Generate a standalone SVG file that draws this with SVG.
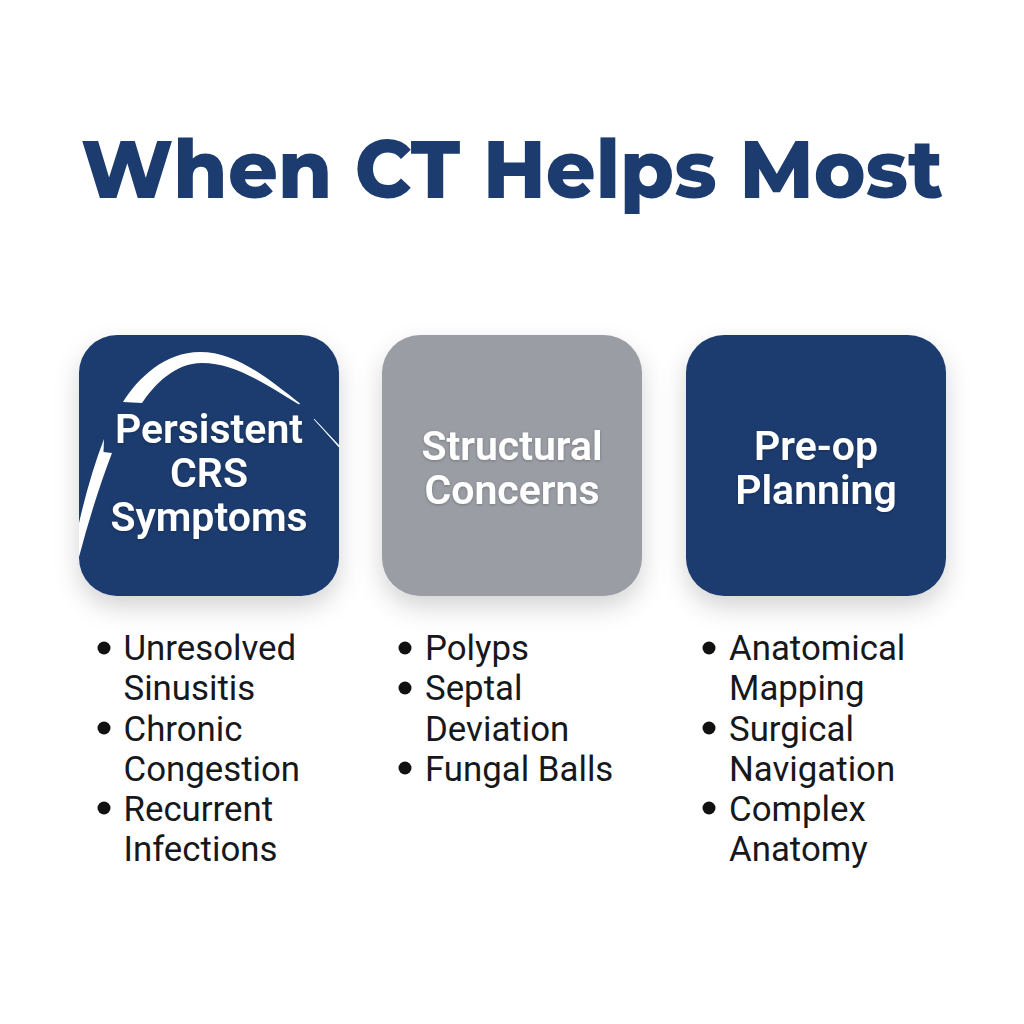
<svg xmlns="http://www.w3.org/2000/svg" width="1024" height="1024" viewBox="0 0 1024 1024">
<defs>
<filter id="sh" x="-20%" y="-20%" width="140%" height="150%"><feDropShadow dx="0" dy="11" stdDeviation="12" flood-color="#000" flood-opacity="0.17"/></filter>
<filter id="ts" x="-10%" y="-20%" width="120%" height="140%"><feDropShadow dx="0" dy="1" stdDeviation="1.5" flood-color="#000" flood-opacity="0.25"/></filter>
</defs>
<style>
.card{filter:url(#sh)}
.navy{fill:#1c3b6e}
.gray{fill:#9a9da4}
.h{font-family:Roboto,"Liberation Sans",sans-serif;font-weight:600;font-size:41px;fill:#fff;text-anchor:middle;filter:url(#ts)}
.b{font-family:Roboto,"Liberation Sans",sans-serif;font-size:34.8px;fill:#16181c}
.t{font-family:Montserrat,Inter,"Liberation Sans",sans-serif;font-weight:800;font-size:81px;fill:#1c3b6e;text-anchor:middle}
</style>
<rect width="1024" height="1024" fill="#fff"/>
<text class="t" x="512" y="198" textLength="862" lengthAdjust="spacingAndGlyphs">When CT Helps Most</text>
<g id="card1">
<rect class="card navy" x="79" y="335" width="260" height="261" rx="38"/>
<path d="M123 402C138 378 165 352 200 352C235 352 265 376 300 403.500L299 404.500C265 384 235 363 202 363C175 363 155 384 142 403Z" fill="#fff"/>
<path d="M104 439L103.500 452L112 453Q94 500 79 557L79 523Q90 475 104 439Z" fill="#fff"/>
<path d="M314 419L339 447L339 445.500Z" fill="#fff" stroke="#fff" stroke-width="0.8"/>
<text class="h" x="209" y="443">Persistent</text>
<text class="h" x="209" y="487">CRS</text>
<text class="h" x="209" y="531">Symptoms</text>
</g>
<g id="card2">
<rect class="card gray" x="382" y="335" width="260" height="261" rx="38"/>
<text class="h" x="512" y="460">Structural</text>
<text class="h" x="512" y="504">Concerns</text>
</g>
<g id="card3">
<rect class="card navy" x="686" y="335" width="260" height="261" rx="38"/>
<text class="h" x="816" y="460">Pre-op</text>
<text class="h" x="816" y="504">Planning</text>
</g>
<g id="list1">
<circle cx="104" cy="648" r="6.500" fill="#111"/><circle cx="104" cy="728" r="6.500" fill="#111"/><circle cx="104" cy="808" r="6.500" fill="#111"/>
<text class="b" x="123.500" y="660">Unresolved</text>
<text class="b" x="123.500" y="700">Sinusitis</text>
<text class="b" x="123.500" y="741">Chronic</text>
<text class="b" x="123.500" y="781">Congestion</text>
<text class="b" x="123.500" y="821">Recurrent</text>
<text class="b" x="123.500" y="861">Infections</text>
</g>
<g id="list2">
<circle cx="405" cy="648" r="6.500" fill="#111"/><circle cx="405" cy="688" r="6.500" fill="#111"/><circle cx="405" cy="768" r="6.500" fill="#111"/>
<text class="b" x="425" y="660">Polyps</text>
<text class="b" x="425" y="700">Septal</text>
<text class="b" x="425" y="741">Deviation</text>
<text class="b" x="425" y="781">Fungal Balls</text>
</g>
<g id="list3">
<circle cx="709" cy="648" r="6.500" fill="#111"/><circle cx="709" cy="728" r="6.500" fill="#111"/><circle cx="709" cy="808" r="6.500" fill="#111"/>
<text class="b" x="729" y="660">Anatomical</text>
<text class="b" x="729" y="700">Mapping</text>
<text class="b" x="729" y="741">Surgical</text>
<text class="b" x="729" y="781">Navigation</text>
<text class="b" x="729" y="821">Complex</text>
<text class="b" x="729" y="861">Anatomy</text>
</g>
</svg>
